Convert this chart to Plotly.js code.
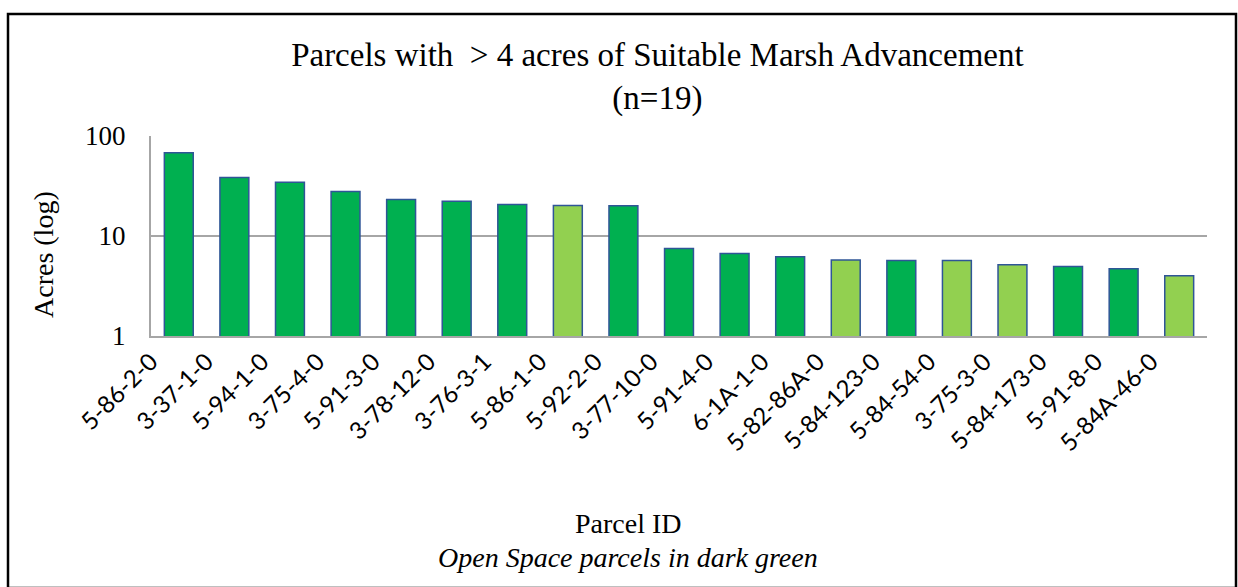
<!DOCTYPE html>
<html>
<head>
<meta charset="utf-8">
<script src="https://cdn.plot.ly/plotly-3.0.1.min.js"></script>
<style>html,body{margin:0;padding:0;background:#fff;}#chart{width:1238px;height:587px;}</style>
</head>
<body>
<div id="chart"></div>
<script>
const parcels = ["5-86-2-0","3-37-1-0","5-94-1-0","3-75-4-0","5-91-3-0","3-78-12-0","3-76-3-1","5-86-1-0","5-92-2-0","3-77-10-0","5-91-4-0","6-1A-1-0","5-82-86A-0","5-84-123-0","5-84-54-0","3-75-3-0","5-84-173-0","5-91-8-0","5-84A-46-0"];
const acres = [68, 38.5, 34.5, 27.8, 23.2, 22.2, 20.6, 20.2, 20.1, 7.5, 6.7, 6.2, 5.75, 5.7, 5.7, 5.15, 4.95, 4.7, 4.0];
const openSpace = [true,true,true,true,true,true,true,false,true,true,true,true,false,true,false,false,true,true,false];
const yTicks = [1, 10, 100];

const darkGreen = "#00B050", lightGreen = "#92D050";
const serif = "Liberation Serif, Times New Roman, serif";

const trace = {
  type: "bar",
  x: parcels,
  y: acres,
  marker: {
    color: openSpace.map(o => o ? darkGreen : lightGreen),
    line: {color: "#2F5597", width: 1.5}
  },
  hoverinfo: "x+y"
};

const px2x = p => (p - 151) / 1056;
const px2y = p => (336 - p) / 200;

const layout = {
  width: 1238, height: 587,
  margin: {l: 151, r: 31, t: 136, b: 251},
  paper_bgcolor: "#ffffff", plot_bgcolor: "#ffffff",
  showlegend: false,
  bargap: 0.48,
  title: {
    text: "Parcels with  > 4 acres of Suitable Marsh Advancement<br>(n=19)",
    font: {family: serif, size: 33, color: "#000"},
    x: 0.531, xanchor: "center", xref: "container",
    y: 0.888, yanchor: "top", yref: "container"
  },
  xaxis: {
    type: "category",
    tickangle: -45,
    tickfont: {family: "Lato, Carlito, sans-serif", size: 24, color: "#000"},
    ticklabelshift: -28,
    showline: true, linecolor: "#A6A6A6", linewidth: 2,
    ticks: "", showgrid: false, zeroline: false
  },
  yaxis: {
    type: "log",
    range: [0, 2],
    tickvals: yTicks,
    ticktext: yTicks.map(String),
    tickfont: {family: serif, size: 27, color: "#000"},
    showline: true, linecolor: "#A6A6A6", linewidth: 2,
    showgrid: true, gridcolor: "#A6A6A6", gridwidth: 2,
    ticks: "", ticklen: 0, ticklabelstandoff: 18, zeroline: false
  },
  annotations: [
    {text: "Acres (log)", xref: "paper", yref: "paper", x: px2x(43), y: px2y(255),
     xanchor: "center", yanchor: "middle", textangle: -90, showarrow: false,
     font: {family: serif, size: 28, color: "#000"}},
    {text: "Parcel ID", xref: "paper", yref: "paper", x: px2x(628), y: px2y(523),
     xanchor: "center", yanchor: "middle", showarrow: false,
     font: {family: serif, size: 28, color: "#000"}},
    {text: "<i>Open Space parcels in dark green</i>", xref: "paper", yref: "paper", x: px2x(628), y: px2y(557),
     xanchor: "center", yanchor: "middle", showarrow: false,
     font: {family: serif, size: 28, color: "#000"}}
  ],
  shapes: [
    {type: "rect", xref: "paper", yref: "paper",
     x0: px2x(8), x1: px2x(1236), y0: px2y(588), y1: px2y(14),
     line: {color: "#000", width: 2.5}, fillcolor: "rgba(0,0,0,0)", layer: "above"}
  ]
};

Plotly.newPlot("chart", [trace], layout, {displayModeBar: false, staticPlot: true});
</script>
</body>
</html>
